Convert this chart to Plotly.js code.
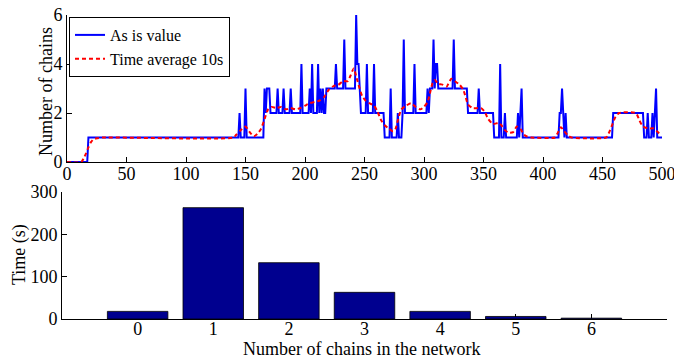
<!DOCTYPE html>
<html>
<head>
<meta charset="utf-8">
<script src="https://cdn.plot.ly/plotly-3.0.1.min.js"></script>
<style>html,body{margin:0;padding:0;background:#fff;}#chart{width:674px;height:358px;}</style>
</head>
<body>
<div id="chart"></div>
<script>
// Top panel: "As is value" (step series, 1 s samples where it changes)
const asIsTime = [0,17,18,144,145,146,149,150,151,165,166,167,168,170,171,176,177,178,181,182,183,187,188,189,196,197,198,203,204,205,206,207,210,211,212,213,214,215,216,217,218,225,226,227,232,233,234,242,243,244,245,246,247,251,252,253,257,258,259,266,267,271,272,273,277,278,279,281,282,283,284,291,292,293,302,303,304,305,307,308,309,310,311,312,324,325,326,336,337,345,346,347,358,359,363,364,365,367,368,369,378,379,380,381,382,383,413,414,415,416,417,418,419,420,458,459,484,485,487,488,489,491,492,493,494,495,496,500];
const asIsValue = [0,0,1,1,2,1,1,3,1,1,3,2,3,3,2,2,3,2,2,3,2,2,3,2,2,4,2,2,3,2,4,2,2,4,2,3,2,3,2,2,3,3,4,3,3,5,3,3,6,4,4,3,2,2,4,2,2,4,2,2,1,1,3,1,1,2,1,1,2,5,2,2,4,2,2,3,2,3,3,5,3,4,4,3,3,5,3,3,2,2,3,2,2,1,1,4,1,1,2,1,1,2,1,2,3,1,1,2,2,3,2,1,2,1,1,2,2,1,1,2,1,1,2,1,2,3,1,1];

// Top panel: "Time average 10s"
const avgTime = [0,12,14,16,18,20,22,25,30,140,142,146,150,153,157,160,163,166,169,172,176,180,184,188,192,196,200,204,208,212,216,220,224,228,232,236,238,241,243,245,248,251,254,258,261,264,267,270,274,276,278,281,285,289,293,297,300,303,305,307,309,312,316,319,323,326,330,333,335,337,341,345,348,351,354,358,363,365,368,371,375,378,381,384,387,390,410,412,415,418,421,424,453,455,458,461,464,478,481,484,488,493,497,500];
const avgValue = [0,0,0.15,0.35,0.6,0.8,0.92,0.97,1,1,1.1,1.3,1.45,1.25,1.05,1.15,1.35,1.75,2.15,2.25,2.2,2.25,2.15,2.2,2.15,2.2,2.3,2.4,2.45,2.5,2.65,2.95,3.1,3.15,3.3,3.3,3.5,3.82,3.5,3.15,2.7,2.5,2.4,2.3,2.05,1.7,1.5,1.38,1.25,1.35,1.7,2.15,2.3,2.4,2.25,2.15,2.25,2.45,2.8,3.2,3.35,3.2,3.15,3.08,3.4,3.3,3.15,2.95,2.65,2.35,2.2,2.2,2.2,2.05,1.75,1.55,1.6,1.5,1.3,1.2,1.22,1.45,1.35,1.12,1.03,1,1,1.15,1.42,1.25,1.08,1,1,1.15,1.5,1.85,2.0,2.0,1.7,1.45,1.37,1.37,1.2,1.12];

// Bottom panel: time spent with each number of chains
const chainCounts = [0,1,2,3,4,5,6];
const timeInState = [18,263,133,63,18,6,2];

const topXTicks = [0,50,100,150,200,250,300,350,400,450,500];
const topYTicks = [0,2,4,6];
const botYTicks = [0,100,200,300];

const W = 674, H = 358;
const FONT = 'Liberation Serif, Times New Roman, serif';

const traces = [
  {x: asIsTime, y: asIsValue, type: 'scatter', mode: 'lines', name: 'As is value',
   line: {color: '#0000ff', width: 2}, xaxis: 'x', yaxis: 'y'},
  {x: avgTime, y: avgValue, type: 'scatter', mode: 'lines', name: 'Time average 10s',
   line: {color: '#ff0000', width: 2, dash: '4px,3px', shape: 'spline', smoothing: 0.6}, xaxis: 'x', yaxis: 'y'},
  {x: chainCounts, y: timeInState, type: 'bar', width: 0.8, showlegend: false,
   marker: {color: '#00008f', line: {color: '#000000', width: 0.8}}, xaxis: 'x2', yaxis: 'y2'}
];

const axisBase = {
  showline: true, linecolor: '#000', linewidth: 1, mirror: false,
  showgrid: false, zeroline: false, ticks: 'inside', ticklen: 5, tickcolor: '#000',
  tickfont: {family: FONT, size: 18, color: '#000'}, layer: 'below traces', fixedrange: true,
  ticklabeloverflow: 'allow'
};

const layout = {
  width: W, height: H,
  margin: {l: 0, r: 0, t: 0, b: 0},
  paper_bgcolor: '#fff', plot_bgcolor: 'rgba(0,0,0,0)',
  font: {family: FONT, color: '#000'},
  showlegend: true,
  legend: {x: 69/W, y: 1 - 17/H, xanchor: 'left', yanchor: 'top',
           bgcolor: '#fff', bordercolor: '#000', borderwidth: 1,
           font: {family: FONT, size: 16, color: '#000'}, tracegroupgap: 0},
  xaxis: Object.assign({}, axisBase, {domain: [67/W, 662/W], anchor: 'y', range: [0, 500], tickvals: topXTicks, ticklabelstandoff: -5}),
  yaxis: Object.assign({}, axisBase, {domain: [1 - 162/H, 1 - 15/H], anchor: 'x', range: [0, 6], tickvals: topYTicks}),
  xaxis2: Object.assign({}, axisBase, {domain: [62/W, 667/W], anchor: 'y2', range: [-1, 7], tickvals: chainCounts, ticklabelstandoff: -7}),
  yaxis2: Object.assign({}, axisBase, {domain: [1 - 319/H, 1 - 192/H], anchor: 'x2', range: [0, 300], tickvals: botYTicks}),
  annotations: [
    {text: 'Number of chains', xref: 'paper', yref: 'paper', x: 46/W, y: 1 - 92/H,
     xanchor: 'center', yanchor: 'middle', textangle: -90, showarrow: false,
     font: {family: FONT, size: 18, color: '#000'}},
    {text: 'Time (s)', xref: 'paper', yref: 'paper', x: 19/W, y: 1 - 255/H,
     xanchor: 'center', yanchor: 'middle', textangle: -90, showarrow: false,
     font: {family: FONT, size: 18, color: '#000'}},
    {text: 'Number of chains in the network', xref: 'paper', yref: 'paper', x: 361/W, y: 1 - 349/H,
     xanchor: 'center', yanchor: 'middle', showarrow: false, borderpad: 0,
     font: {family: FONT, size: 18, color: '#000'}}
  ]
};

Plotly.newPlot('chart', traces, layout, {staticPlot: true, displayModeBar: false});
</script>
</body>
</html>
